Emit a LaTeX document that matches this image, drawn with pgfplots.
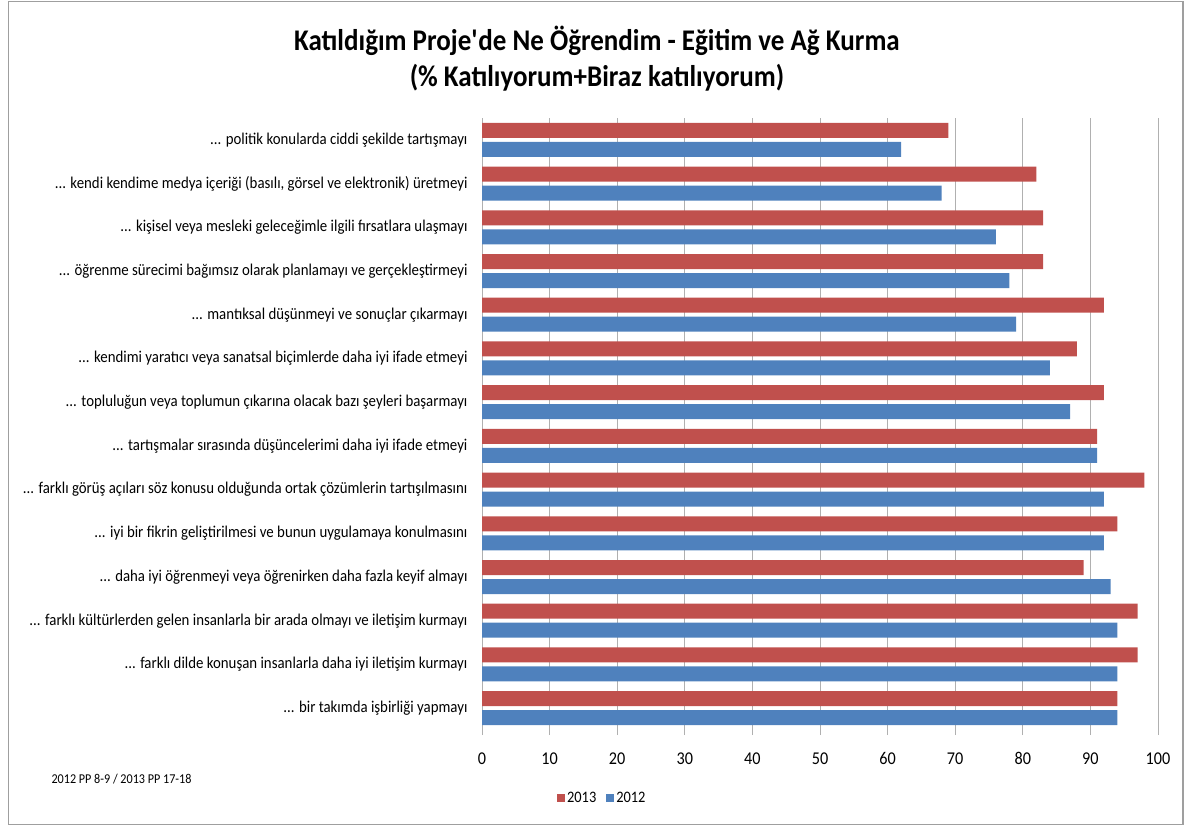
\documentclass[border=0pt]{standalone}
\usepackage{fontspec}
\setmainfont{Carlito}[FakeStretch=0.9]
\usepackage{pgfplots}
\pgfplotsset{compat=1.18}
\definecolor{c2013}{HTML}{C0504D}
\definecolor{c2012}{HTML}{4F81BD}
\definecolor{gridgray}{HTML}{B0B0B0}
\newcommand\dd{...}

\begin{document}
\begin{tikzpicture}[x=1pt,y=1pt]
\useasboundingbox (0,0) rectangle (1186,827);
\draw[gray!75, line width=1.3pt] (8.5,2.5) rectangle (1183,825.5);
% title
\node[font=\fontsize{30}{36}\selectfont\bfseries, align=center] at (597,768)
  {Katıldığım Proje\textquotesingle de Ne Öğrendim - Eğitim ve Ağ Kurma\\(\% Katılıyorum+Biraz katılıyorum)};
\node[font=\fontsize{13.5}{15}\selectfont, anchor=west] at (48,48) {2012 PP 8-9 / 2013 PP 17-18};
\begin{axis}[
  at={(482pt,97pt)}, anchor=south west,
  scale only axis, width=676pt, height=612pt,
  xbar, bar width=15pt,
  xmin=0, xmax=100, xtick={0,10,20,30,40,50,60,70,80,90,100},
  ymin=-0.5, ymax=13.5, y dir=reverse,
  ytick={0,1,2,3,4,5,6,7,8,9,10,11,12,13},
  yticklabels={
    {\dd{} politik konularda ciddi şekilde tartışmayı},
    {\dd{} kendi kendime medya içeriği (basılı, görsel ve elektronik) üretmeyi},
    {\dd{} kişisel veya mesleki geleceğimle ilgili fırsatlara ulaşmayı},
    {\dd{} öğrenme sürecimi bağımsız olarak planlamayı ve gerçekleştirmeyi},
    {\dd{} mantıksal düşünmeyi ve sonuçlar çıkarmayı},
    {\dd{} kendimi yaratıcı veya sanatsal biçimlerde daha iyi ifade etmeyi},
    {\dd{} topluluğun veya toplumun çıkarına olacak bazı şeyleri başarmayı},
    {\dd{} tartışmalar sırasında düşüncelerimi daha iyi ifade etmeyi},
    {\dd{} farklı görüş açıları söz konusu olduğunda ortak çözümlerin tartışılmasını},
    {\dd{} iyi bir fikrin geliştirilmesi ve bunun uygulamaya konulmasını},
    {\dd{} daha iyi öğrenmeyi veya öğrenirken daha fazla keyif almayı},
    {\dd{} farklı kültürlerden gelen insanlarla bir arada olmayı ve iletişim kurmayı},
    {\dd{} farklı dilde konuşan insanlarla daha iyi iletişim kurmayı},
    {\dd{} bir takımda işbirliği yapmayı}},
  separate axis lines,
  axis x line*=bottom, axis y line*=left,
  x axis line style={draw=none},
  y axis line style={draw=gridgray},
  xmajorgrids, major grid style={gridgray, line width=0.8pt},
  tick align=outside, major tick length=5pt,
  x tick style={gridgray, line width=0.8pt},
  y tick style={draw=none},
  /pgf/number format/assume math mode=true,
  xticklabel style={font=\fontsize{18}{20}\selectfont, yshift=-14pt},
  yticklabel style={font=\fontsize{16.5}{19}\selectfont, xshift=-6pt},
  legend style={at={(0.178,-0.111)}, anchor=center, draw=none,
    font=\fontsize{16}{18}\selectfont, legend columns=2,
    /tikz/every even column/.append style={column sep=8pt}},
  legend image code/.code={\path[#1,draw=none] (0pt,-4pt) rectangle (8pt,4pt);},
]
\addplot[fill=c2013, draw=none, bar shift=9.5pt] coordinates {
  (69,0) (82,1) (83,2) (83,3) (92,4) (88,5) (92,6) (91,7) (98,8) (94,9) (89,10) (97,11) (97,12) (94,13)};
\addplot[fill=c2012, draw=none, bar shift=-9.5pt] coordinates {
  (62,0) (68,1) (76,2) (78,3) (79,4) (84,5) (87,6) (91,7) (92,8) (92,9) (93,10) (94,11) (94,12) (94,13)};
\legend{2013,2012}
\end{axis}
\end{tikzpicture}
\end{document}
